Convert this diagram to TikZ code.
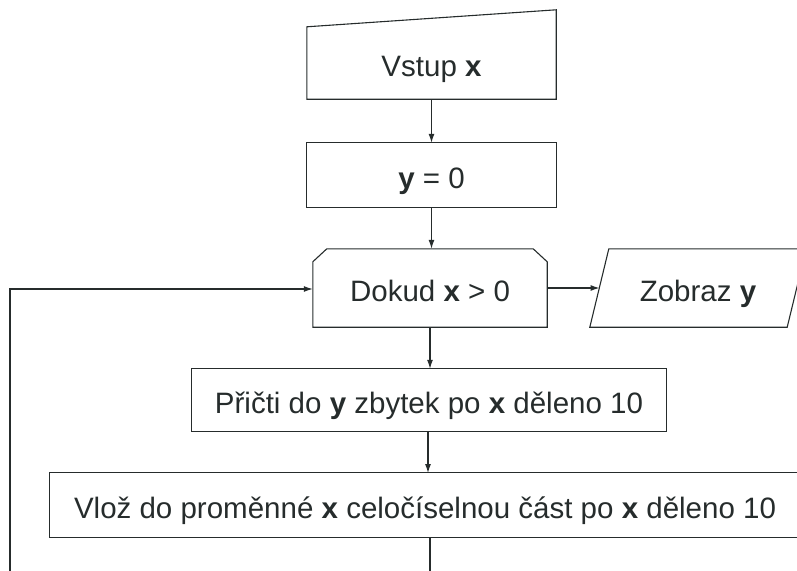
\documentclass[tikz,border=0pt]{standalone}
\usepackage{fontspec}
\setmainfont{Liberation Sans}
\usetikzlibrary{arrows.meta,calc}
\definecolor{ink}{RGB}{38,44,44}
\tikzset{
  box/.style={draw=none, text=ink, font=\fontsize{29.5}{34}\selectfont, inner sep=0pt, anchor=center, text height=27pt, text depth=0pt},
  outline/.style={draw=ink, line width=1.1pt, line join=miter},
  conn/.style={draw=ink, line width=1.1pt},
  arr/.style={conn, -{Latex[length=9pt,width=6pt]}}
}
\begin{document}
\begin{tikzpicture}[x=1pt,y=-1pt]
\useasboundingbox (0,0) rectangle (797,570);
\clip (0,0) rectangle (797,570);
% input
\node[box, minimum width=249pt, minimum height=72pt] (in) at (431.5,63) {Vstup \textbf{x}};
\draw[outline] (in.south west) -- (in.south east) -- ($(in.north east)+(0,-17)$) -- (in.north west) -- cycle;
% y = 0
\node[box, minimum width=249pt, minimum height=64pt] (y0) at (431.5,175) {\textbf{y} = 0};
\draw[outline] (y0.south west) rectangle (y0.north east);
% loop
\node[box, minimum width=234pt, minimum height=78pt] (loop) at (430,288) {Dokud \textbf{x} > 0};
\draw[outline] (loop.south west) -- ($(loop.north west)+(0,13)$) -- ($(loop.north west)+(14,0)$) -- ($(loop.north east)+(-14,0)$) -- ($(loop.north east)+(0,13)$) -- (loop.south east) -- cycle;
% output
\node[box, minimum width=197pt, minimum height=78pt] (out) at (698,288) {Zobraz \textbf{y}};
\coordinate (outL) at (599.5,288);
\draw[outline] ($(out.south west)+(-9.5,0)$) -- ($(out.north west)+(9.5,0)$) -- ($(out.north east)+(9.5,0)$) -- ($(out.south east)+(-9.5,0)$) -- cycle;
% step 1
\node[box, minimum width=474pt, minimum height=62pt] (p3) at (429,400) {Přičti do \textbf{y} zbytek po \textbf{x} děleno 10};
\draw[outline] (p3.south west) rectangle (p3.north east);
% step 2
\node[box, minimum width=770pt, minimum height=64pt] (p4) at (435,505) {\hspace*{-20pt}Vlož do proměnné \textbf{x} celočíselnou část po \textbf{x} děleno 10};
\draw[outline] (p4.south west) rectangle (p4.north east);
% connectors
\draw[arr] (in.south) -- (y0.north);
\draw[arr] (y0.south) -- (y0.south |- loop.north);
\draw[arr] (loop.east) -- (outL);
\draw[arr] (loop.south) -- (loop.south |- p3.north);
\coordinate (p4top) at (428,473);
\draw[arr] (p3.south -| p4top) -- (p4top);
\coordinate (b1) at (430,600);
\coordinate (b2) at (10,600);
\coordinate (b3) at (10,289);
\draw[arr] (p4.south -| b1) -- (b1) -- (b2) -- (b3) -- (b3 -| loop.west);
\end{tikzpicture}
\end{document}
